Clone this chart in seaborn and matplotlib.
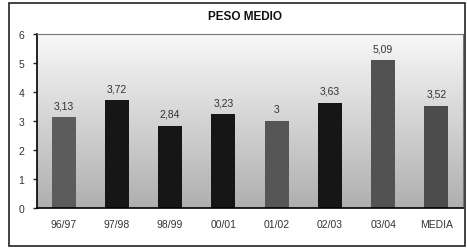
import numpy as np
import pandas as pd
import seaborn as sns
import matplotlib
matplotlib.use("Agg")
import matplotlib.pyplot as plt
from matplotlib.patches import Rectangle

seasons = ["96/97", "97/98", "98/99", "00/01", "01/02", "02/03", "03/04", "MEDIA"]
peso = [3.13, 3.72, 2.84, 3.23, 3.0, 3.63, 5.09, 3.52]
labels = ["3,13", "3,72", "2,84", "3,23", "3", "3,63", "5,09", "3,52"]
bar_colors = ["#5c5c5c", "#161616", "#161616", "#161616",
              "#565656", "#161616", "#525252", "#4c4c4c"]

sns.set_style("white")
plt.rcParams["font.family"] = ["Liberation Sans", "DejaVu Sans"]

df = pd.DataFrame({"season": seasons, "peso": peso})

fig = plt.figure(figsize=(4.67, 2.51), dpi=100)
fig.patch.set_facecolor("white")
ax = fig.add_axes([37 / 467, 1 - 209 / 251, 426 / 467, 174 / 251])

# gradient background: light at the top, darker at the bottom
grad = np.linspace(0, 1, 256).reshape(-1, 1)
ax.imshow(grad, extent=(-0.5, 7.5, 0, 6), aspect="auto", cmap="gray",
          vmin=-2.4, vmax=1.1, origin="lower", zorder=0)

sns.barplot(data=df, x="season", y="peso", hue="season", palette=bar_colors,
            legend=False, width=0.45, saturation=1, ax=ax, zorder=2,
            edgecolor="none", linewidth=0)

for c, lab in zip(ax.containers, labels):
    ax.bar_label(c, labels=[lab], padding=5, fontsize=7.5, color="#333333")

ax.set_xlim(-0.5, 7.5)
ax.set_ylim(0, 6)
ax.set_yticks(range(0, 7))
ax.set_xlabel("")
ax.set_ylabel("")
ax.tick_params(axis="x", which="major", length=0, labelsize=7.5, pad=8,
               labelcolor="#333333")
ax.set_xticks(np.arange(0.5, 7.5, 1), minor=True)
ax.tick_params(axis="x", which="minor", length=3, width=1, direction="out",
               color="black")
ax.tick_params(axis="y", length=3, width=1, direction="out", labelsize=7.5,
               labelcolor="#333333", left=True, pad=6)

for side in ["top", "right"]:
    ax.spines[side].set_color("#777777")
    ax.spines[side].set_linewidth(0.8)
for side in ["left", "bottom"]:
    ax.spines[side].set_color("black")
    ax.spines[side].set_linewidth(1.2)

fig.text(245 / 467, 1 - 17 / 251, "PESO MEDIO", ha="center", va="center",
         fontsize=8.5, fontweight="bold", color="#111111")

fig.add_artist(Rectangle((9 / 467, 4 / 251), 456 / 467, 243 / 251,
                         transform=fig.transFigure, fill=False,
                         edgecolor="#222222", linewidth=1.2))

fig.savefig("out.png", dpi=100)
